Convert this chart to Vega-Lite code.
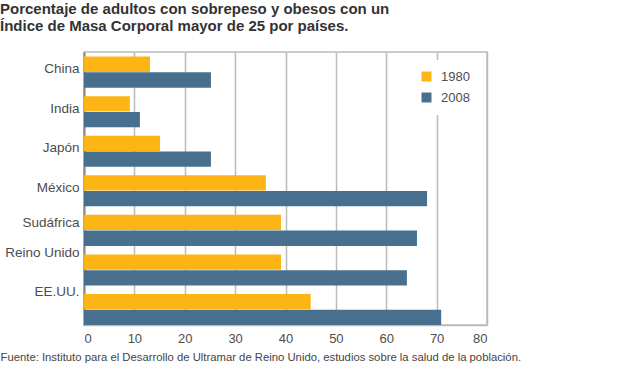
{
  "$schema": "https://vega.github.io/schema/vega-lite/v6.json",
  "width": 403,
  "height": 273,
  "autosize": {"type": "none"},
  "padding": {"left": 84, "top": 52, "right": 137, "bottom": 44},
  "background": "white",
  "title": {
    "text": ["Porcentaje de adultos con sobrepeso y obesos con un", "Índice de Masa Corporal mayor de 25 por países."],
    "anchor": "start",
    "frame": "group",
    "dx": -84,
    "fontSize": 15,
    "fontWeight": "bold",
    "color": "#333333",
    "lineHeight": 17,
    "baseline": "alphabetic",
    "offset": 6
  },
  "data": {
    "values": [
      {"pais": "China", "anio": "1980", "valor": 13.1},
      {"pais": "China", "anio": "2008", "valor": 25.2},
      {"pais": "India", "anio": "1980", "valor": 9.1},
      {"pais": "India", "anio": "2008", "valor": 11.1},
      {"pais": "Japón", "anio": "1980", "valor": 15.1},
      {"pais": "Japón", "anio": "2008", "valor": 25.2},
      {"pais": "México", "anio": "1980", "valor": 36.1},
      {"pais": "México", "anio": "2008", "valor": 68.1},
      {"pais": "Sudáfrica", "anio": "1980", "valor": 39.1},
      {"pais": "Sudáfrica", "anio": "2008", "valor": 66.1},
      {"pais": "Reino Unido", "anio": "1980", "valor": 39.1},
      {"pais": "Reino Unido", "anio": "2008", "valor": 64.1},
      {"pais": "EE.UU.", "anio": "1980", "valor": 45.0},
      {"pais": "EE.UU.", "anio": "2008", "valor": 70.9}
    ]
  },
  "mark": {"type": "bar"},
  "encoding": {
    "y": {
      "field": "pais",
      "type": "nominal",
      "sort": ["China", "India", "Japón", "México", "Sudáfrica", "Reino Unido", "EE.UU."],
      "scale": {"paddingInner": 0.215, "paddingOuter": 0.058, "align": 1},
      "axis": {
        "title": null,
        "ticks": false,
        "labelPadding": 5,
        "labelFontSize": 13.5,
        "labelColor": "#4d4d4d",
        "labelOffset": {"condition": [{"test": "datum.value == 'Reino Unido' || datum.value == 'EE.UU.'", "value": -17}, {"test": "datum.value == 'Sudáfrica'", "value": -7}], "value": -3},
        "domainColor": "#888888",
        "domainWidth": 2,
        "grid": false
      }
    },
    "yOffset": {
      "field": "anio",
      "type": "nominal",
      "scale": {"paddingInner": 0.03, "paddingOuter": 0}
    },
    "x": {
      "field": "valor",
      "type": "quantitative",
      "scale": {"domain": [0, 80], "nice": false},
      "axis": {
        "values": [0, 10, 20, 30, 40, 50, 60, 70, 80],
        "ticks": false,
        "labelPadding": 7,
        "labelFontSize": 13,
        "labelColor": "#4d4d4d",
        "domainColor": "#bbbbbb",
        "domainWidth": 1.5,
        "gridColor": "#bbbbbb",
        "gridWidth": 1.5,
        "title": "Fuente: Instituto para el Desarrollo de Ultramar de Reino Unido, estudios sobre la salud de la población.",
        "titleX": -84,
        "titleY": 35,
        "titleAlign": "left",
        "titleAnchor": "start",
        "titleBaseline": "alphabetic",
        "titleFontSize": 11.3,
        "titleFontWeight": "normal",
        "titleColor": "#444444"
      }
    },
    "color": {
      "field": "anio",
      "type": "nominal",
      "scale": {"domain": ["1980", "2008"], "range": ["#FDB515", "#48708E"]},
      "legend": {
        "title": null,
        "orient": "none",
        "legendX": 326,
        "legendY": 8,
        "fillColor": "white",
        "padding": 10,
        "symbolType": "square",
        "symbolSize": 100,
        "symbolStrokeWidth": 0,
        "labelFontSize": 13,
        "labelColor": "#4d4d4d",
        "labelOffset": 8,
        "rowPadding": 7
      }
    }
  },
  "config": {
    "font": "Liberation Sans",
    "view": {"stroke": "#bbbbbb", "strokeWidth": 1.5}
  }
}
